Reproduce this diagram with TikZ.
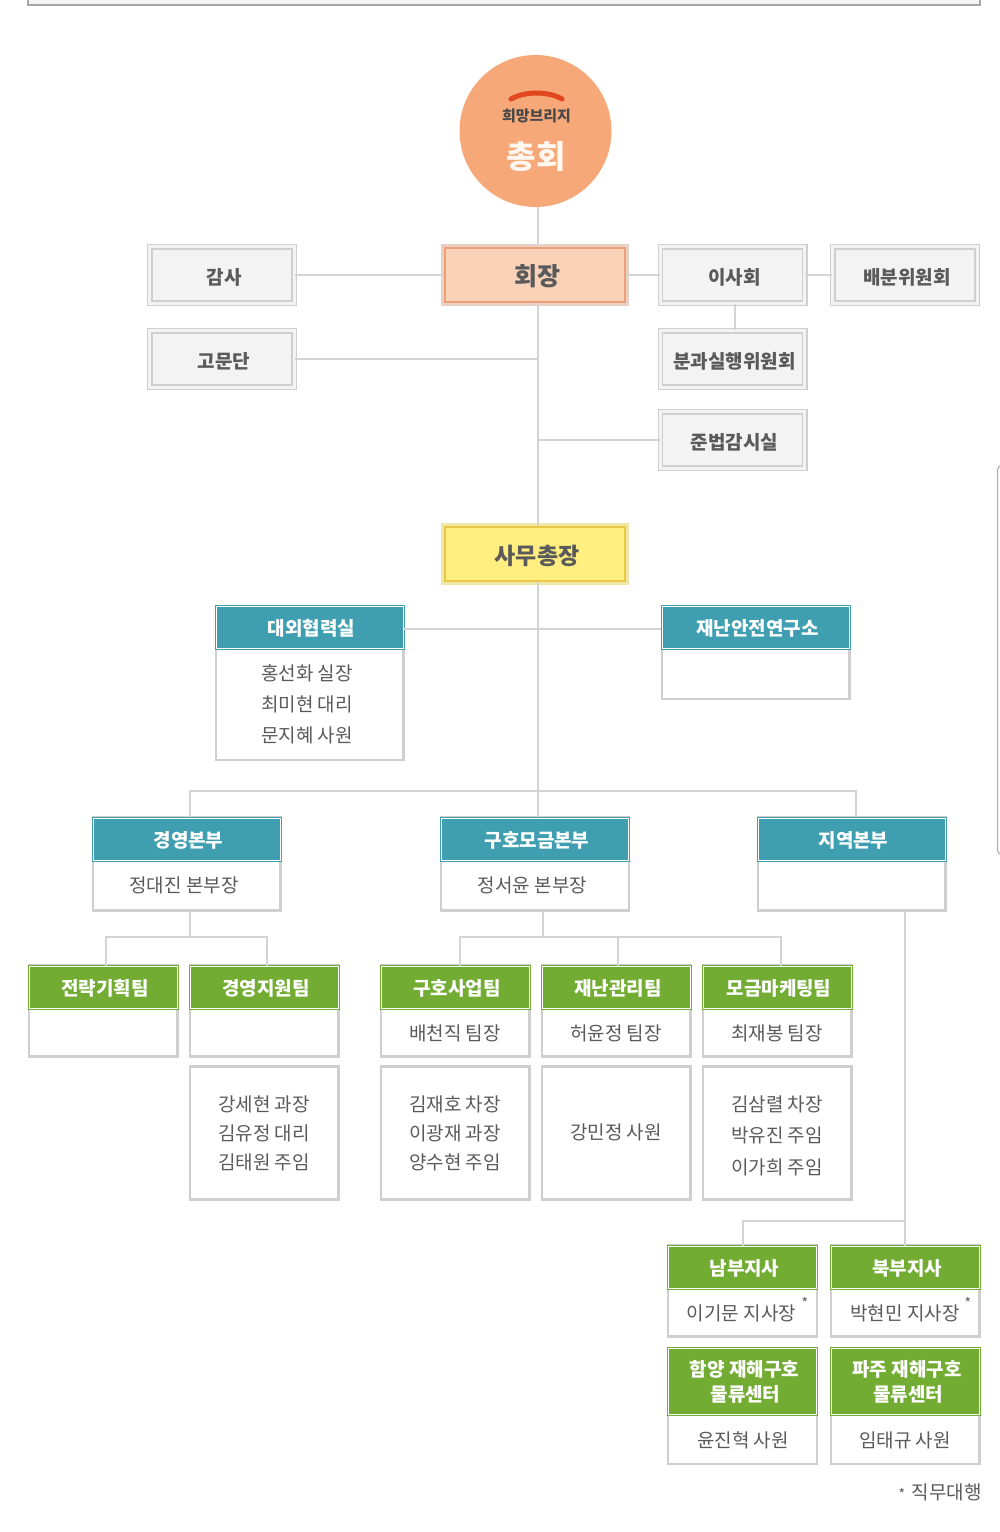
\documentclass[tikz,border=0pt]{standalone}
\usepackage{fontspec}
\setmainfont{Noto Sans CJK KR}
\definecolor{linegray}{HTML}{D4D4D4}
\definecolor{framegray}{HTML}{CFCFCF}
\definecolor{panelgray}{HTML}{F3F3F3}
\definecolor{txtgray}{HTML}{5A5A5A}
\definecolor{orgteal}{HTML}{3F9FB0}
\definecolor{orggreen}{HTML}{72AC33}
\definecolor{circorange}{HTML}{F6A878}
\definecolor{swoosh}{HTML}{E2471F}
\definecolor{salmonfill}{HTML}{F9D2B8}
\definecolor{salmonline}{HTML}{EE9F78}
\definecolor{salmonpale}{HTML}{E9D0C4}
\definecolor{yellowfill}{HTML}{FFEE80}
\definecolor{yellowline}{HTML}{E8C844}
\definecolor{yellowpale}{HTML}{EFE7A8}
\tikzset{
  conn/.style={draw=linegray,line width=1.2pt},
  graybox/.style={draw=framegray,double=panelgray,line width=1.4pt,double distance=3pt,
    fill=panelgray,inner sep=0pt,minimum width=144.2pt,minimum height=56.2pt,
    text=txtgray,font=\fontsize{19}{24}\selectfont\bfseries,
    execute at begin node={\hspace*{4pt}\rule{0pt}{20pt}}},
  chiefbox/.style={preaction={draw=#1pale,line width=8pt},draw=#1line,line width=1.3pt,fill=#1fill,
    inner sep=0pt,minimum width=180pt,minimum height=54pt,text=txtgray,
    execute at begin node={\hspace*{4pt}\rule{0pt}{24pt}}},
  headbox/.style={draw=#1,double=white,line width=1.1pt,double distance=.8pt,fill=#1,
    inner sep=0pt,text=white,align=center,font=\fontsize{19}{25}\selectfont\bfseries,
    execute at begin node={\hspace*{4pt}\rule{0pt}{18pt}}},
  bodybox/.style={draw=framegray,line width=2.4pt,fill=white,inner sep=0pt},
  stafftxt/.style={text=txtgray,align=center,inner sep=0pt,font=\fontsize{19}{31}\selectfont},
  startxt/.style={text=txtgray,inner sep=0pt,font=\fontsize{14}{16}\selectfont},
  bighead/.style={headbox=orgteal,minimum width=187pt,minimum height=42pt},
  bigbody/.style={bodybox,minimum width=187.6pt},
  teamhead/.style={headbox=orggreen,minimum width=148pt,minimum height=42pt},
  teambody/.style={bodybox,minimum width=148.6pt},
  tallhead/.style={headbox=orggreen,minimum width=148pt,minimum height=66pt},
}
\begin{document}
\begin{tikzpicture}[x=1pt,y=-1pt]
  \useasboundingbox (0,0) rectangle (1000,1532);
  \draw[draw=gray!70,line width=2pt,fill=panelgray] (28,-6) rectangle (980,5);
  \draw[draw=gray!60,line width=1.2pt,rounded corners=5pt] (1003,465) -- (997.5,465) -- (997.5,855) -- (1003,855);
  % top of the chart
  \node[circle,fill=circorange,minimum size=152pt,inner sep=0pt] (chonghoe) at (535.5,131) {};
  \draw[draw=swoosh,line width=5pt,line cap=round] (511,99) .. controls (525,91) and (548,91) .. (562,99);
  \node[text=txtgray!80!black,font=\fontsize{15}{18}\selectfont\bfseries] (brand) at (536.5,116) {희망브리지};
  \node[text=white!94!orange,font=\fontsize{32}{36}\selectfont\bfseries] (chonghoetxt) at (536,157) {총회};
  \node[chiefbox=salmon,font=\fontsize{25}{30}\selectfont\bfseries] (hoejang) at (535,275) {회장};
  \node[graybox] (gamsa) at (222,275) {감사};
  \node[graybox] (isahoe) at (732.5,275) {이사회};
  \node[graybox] (baebun) at (905,275) {배분위원회};
  \node[graybox] (gomun) at (222,359) {고문단};
  \node[graybox] (bungwa) at (732.5,359) {분과실행위원회};
  \node[graybox] (junbeop) at (732.5,440) {준법감시실};
  \node[chiefbox=yellow,font=\fontsize{23}{28}\selectfont\bfseries] (samu) at (535,554) {사무총장};
  % offices
  \node[bigbody,minimum height=154pt] (daeoebody) at (309.5,683) {};
  \node[bighead] (daeoe) at (309.5,627.5) {대외협력실};
  \node[stafftxt] (daeoestaff) at (307,704.5) {홍선화 실장\\최미현 대리\\문지혜 사원};
  \node[bigbody,minimum height=93pt] (yeonbody) at (755.5,652.5) {};
  \node[bighead] (yeon) at (755.5,627.5) {재난안전연구소};
  % headquarters
  \node[bigbody,minimum height=93pt] (gyeongbody) at (186.5,864) {};
  \node[bighead] (gyeong) at (186.5,839) {경영본부};
  \node[stafftxt] (gyeongstaff) at (184,885) {정대진 본부장};
  \node[bigbody,minimum height=93pt] (guhobody) at (535,864) {};
  \node[bighead] (guho) at (535,839) {구호모금본부};
  \node[stafftxt] (guhostaff) at (532.5,885) {정서윤 본부장};
  \node[bigbody,minimum height=93pt] (jiyeokbody) at (851.5,864) {};
  \node[bighead] (jiyeok) at (851.5,839) {지역본부};
  % teams
  \node[teambody,minimum height=91pt] (jeonbody) at (103,1011) {};
  \node[teamhead] (jeon) at (103,987.5) {전략기획팀};
  \node[teambody,minimum height=91pt] (jiwonbody) at (264,1011) {};
  \node[teamhead] (jiwon) at (264,987.5) {경영지원팀};
  \node[teambody,minimum height=91pt] (saeopbody) at (455,1011) {};
  \node[teamhead] (saeop) at (455,987.5) {구호사업팀};
  \node[stafftxt] (saeopchief) at (455,1033.5) {배천직 팀장};
  \node[teambody,minimum height=91pt] (gwanribody) at (616,1011) {};
  \node[teamhead] (gwanri) at (616,987.5) {재난관리팀};
  \node[stafftxt] (gwanrichief) at (616,1033.5) {허윤정 팀장};
  \node[teambody,minimum height=91pt] (mogeumbody) at (777,1011) {};
  \node[teamhead] (mogeum) at (777,987.5) {모금마케팅팀};
  \node[stafftxt] (mogeumchief) at (777,1033.5) {최재봉 팀장};
  \node[teambody,minimum height=133pt] (jiwonbox) at (264,1133) {};
  \node[stafftxt,font=\fontsize{19}{29}\selectfont] (jiwonstaff) at (264,1133.5) {강세현 과장\\김유정 대리\\김태원 주임};
  \node[teambody,minimum height=133pt] (saeopbox) at (455,1133) {};
  \node[stafftxt,font=\fontsize{19}{29}\selectfont] (saeopstaff) at (455,1133.5) {김재호 차장\\이광재 과장\\양수현 주임};
  \node[teambody,minimum height=133pt] (gwanribox) at (616,1133) {};
  \node[stafftxt] (gwanristaff) at (616,1132.5) {강민정 사원};
  \node[teambody,minimum height=133pt] (mogeumbox) at (777,1133) {};
  \node[stafftxt,font=\fontsize{19}{31.5}\selectfont] (mogeumstaff) at (777,1135.5) {김삼렬 차장\\박유진 주임\\이가희 주임};
  % branches
  \node[teambody,minimum height=91pt] (nambubody) at (742.5,1291) {};
  \node[teamhead] (nambu) at (742.5,1267.5) {남부지사};
  \node[stafftxt] (nambuchief) at (741.5,1313.5) {이기문 지사장};
  \node[startxt] (nambustar) at (805,1303) {*};
  \node[teambody,minimum height=91pt] (bukbubody) at (905,1291) {};
  \node[teamhead] (bukbu) at (905,1267.5) {북부지사};
  \node[stafftxt] (bukbuchief) at (905,1313.5) {박현민 지사장};
  \node[startxt] (bukbustar) at (968,1303) {*};
  \node[teambody,minimum height=116pt] (hamyangbody) at (742.5,1406) {};
  \node[tallhead] (hamyang) at (742.5,1381.5) {함양 재해구호\\\hspace*{2pt}물류센터};
  \node[stafftxt] (hamyangstaff) at (743,1440.5) {윤진혁 사원};
  \node[teambody,minimum height=116pt] (pajubody) at (905,1406) {};
  \node[tallhead] (paju) at (905,1381.5) {파주 재해구호\\\hspace*{2pt}물류센터};
  \node[stafftxt] (pajustaff) at (905,1440.5) {임태규 사원};
  \node[stafftxt,anchor=east] (acting) at (982,1492.5) {직무대행};
  \node[startxt] (actingstar) at (902,1494) {*};
  % connectors
  \coordinate (trunk) at (538,0);
  \coordinate (officerow) at (0,629);
  \coordinate (hqrow) at (190,791);
  \coordinate (hqend) at (856,791);
  \coordinate (gyeongrow) at (190,937);
  \coordinate (jeonend) at (106,937);
  \coordinate (jiwonend) at (267,937);
  \coordinate (guhorow) at (543,937);
  \coordinate (saeopend) at (460,937);
  \coordinate (gwanrimid) at (618,937);
  \coordinate (mogeumend) at (781,937);
  \coordinate (jiyeokdown) at (905,1221);
  \coordinate (namend) at (743,1221);
  \draw[conn] (chonghoe.south -| trunk) -- (hoejang.north -| trunk);
  \draw[conn] (hoejang.south -| trunk) -- (samu.north -| trunk);
  \draw[conn] (samu.south -| trunk) -- (guho.north -| trunk);
  \draw[conn] (gamsa) -- (hoejang);
  \draw[conn] (hoejang) -- (isahoe);
  \draw[conn] (isahoe) -- (baebun);
  \draw[conn] (isahoe.south -| 735,0) -- (bungwa.north -| 735,0);
  \draw[conn] (gomun.east) -- (gomun.east -| trunk);
  \draw[conn] (junbeop.west) -- (junbeop.west -| trunk);
  \draw[conn] (daeoe.east |- officerow) -- (yeon.west |- officerow);
  \draw[conn] (gyeong.north -| hqrow) -- (hqrow) -- (hqend) -- (jiyeok.north -| hqend);
  \draw[conn] (gyeongbody.south -| gyeongrow) -- (gyeongrow);
  \draw[conn] (jeon.north -| jeonend) -- (jeonend) -- (jiwonend) -- (jiwon.north -| jiwonend);
  \draw[conn] (guhobody.south -| guhorow) -- (guhorow);
  \draw[conn] (saeop.north -| saeopend) -- (saeopend) -- (mogeumend) -- (mogeum.north -| mogeumend);
  \draw[conn] (gwanrimid) -- (gwanri.north -| gwanrimid);
  \draw[conn] (jiyeokbody.south -| jiyeokdown) -- (bukbu.north -| jiyeokdown);
  \draw[conn] (jiyeokdown) -- (namend) -- (nambu.north -| namend);
\end{tikzpicture}
\end{document}
